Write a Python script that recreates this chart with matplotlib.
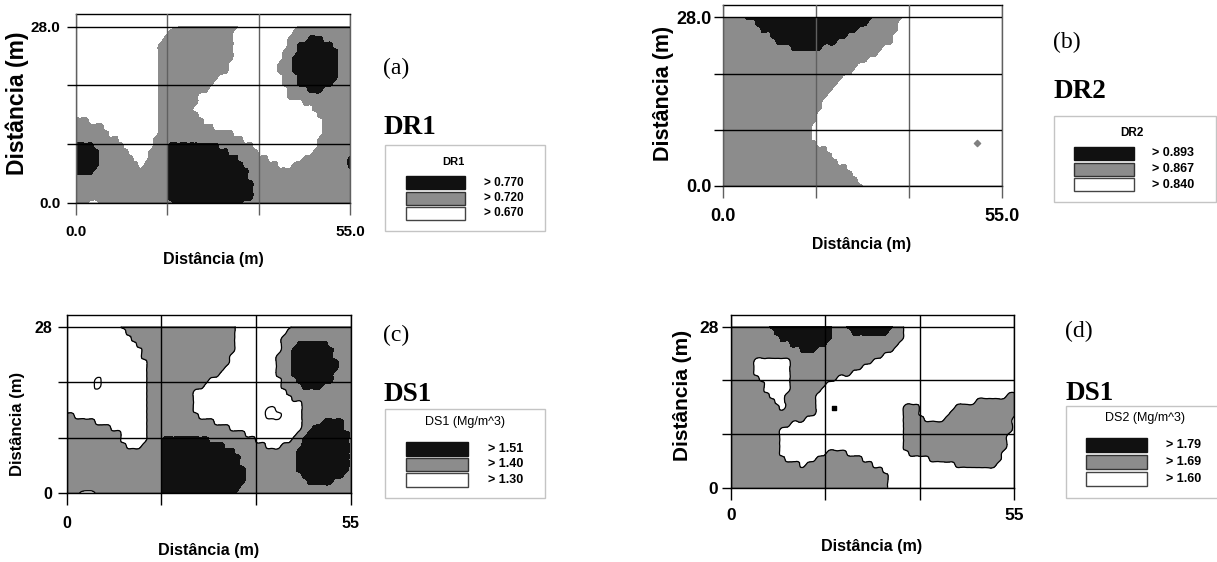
import numpy as np
import matplotlib
matplotlib.use("Agg")
import matplotlib.pyplot as plt
import matplotlib.tri as mtri
from matplotlib.patches import Rectangle

W, H = 1217, 562
plt.rcParams["font.family"] = ["Liberation Sans", "DejaVu Sans"]
plt.rcParams["font.weight"] = "bold"

GRAY = "#8c8c8c"
BLACK = "#111111"

# ---------------- data ----------------
X_EXTENT = 55.0
Y_EXTENT = 28.0
N_COLS = 56   # one sample per metre along x
N_ROWS = 29   # one sample per metre along y

# class maps, one row per metre from y = 28 m (top) to y = 0 m,
# written as runs "class x count" along x = 0..55 m
# '-' below the lowest class (white, outlined), '0' white, '1' gray, '2' black
dr1_map = [
    "0x21 1x12 0x12 1x11",
    "0x19 1x13 0x12 1x12",
    "0x18 1x14 0x11 1x4 2x3 1x6",
    "0x17 1x15 0x11 1x2 2x7 1x4",
    "0x17 1x15 0x10 1x3 2x8 1x3",
    "0x17 1x15 0x10 1x2 2x9 1x3",
    "0x17 1x14 0x10 1x3 2x9 1x3",
    "0x17 1x14 0x10 1x3 2x9 1x3",
    "0x17 1x12 0x13 1x3 2x8 1x3",
    "0x17 1x11 0x14 1x3 2x7 1x4",
    "0x17 1x10 0x16 1x4 2x3 1x6",
    "0x17 1x8 0x18 1x13",
    "0x17 1x8 0x21 1x10",
    "0x17 1x7 0x24 1x8",
    "0x17 1x8 0x24 1x7",
    "1x3 0x14 1x9 0x24 1x6",
    "1x6 0x11 1x11 0x22 1x6",
    "1x7 0x10 1x15 0x18 1x6",
    "1x9 0x7 1x18 0x15 1x7",
    "2x4 1x6 0x6 1x3 2x10 1x7 0x13 1x7",
    "2x5 1x6 0x4 1x4 2x12 1x6 0x11 1x8",
    "2x5 1x7 0x3 1x4 2x14 1x6 0x7 1x9 2x1",
    "2x5 1x8 0x1 1x5 2x15 1x7 0x3 1x11 2x1",
    "2x4 1x15 2x16 1x21",
    "1x19 2x16 1x21",
    "1x19 2x17 1x20",
    "1x19 2x17 1x20",
    "1x19 2x17 1x20",
    "1x3 0x2 1x15 2x14 1x22",
]
dr2_map = [
    "1x5 2x25 1x6 0x20",
    "1x7 2x22 1x6 0x21",
    "1x8 2x19 1x8 0x21",
    "1x10 2x15 1x9 0x22",
    "1x11 2x12 1x11 0x22",
    "1x14 2x6 1x12 0x24",
    "1x31 0x25",
    "1x29 0x27",
    "1x27 0x29",
    "1x26 0x30",
    "1x24 0x32",
    "1x23 0x33",
    "1x22 0x34",
    "1x21 0x35",
    "1x20 0x36",
    "1x20 0x36",
    "1x19 0x37",
    "1x19 0x37",
    "1x18 0x38",
    "1x18 0x38",
    "1x18 0x38",
    "1x19 0x37",
    "1x21 0x35",
    "1x22 0x34",
    "1x23 0x33",
    "1x25 0x31",
    "1x26 0x30",
    "1x27 0x29",
    "1x28 0x28",
]
ds1_map = [
    "0x11 1x22 0x11 1x12",
    "0x12 1x21 0x10 1x13",
    "0x13 1x20 0x9 1x14",
    "0x14 1x19 0x9 1x3 2x6 1x5",
    "0x15 1x18 0x9 1x2 2x8 1x4",
    "0x15 1x17 0x9 1x3 2x8 1x4",
    "0x16 1x16 0x9 1x3 2x9 1x3",
    "0x16 1x15 0x10 1x3 2x9 1x3",
    "0x16 1x14 0x11 1x3 2x8 1x4",
    "0x6 -x1 0x9 1x12 0x14 1x3 2x7 1x4",
    "0x6 -x1 0x9 1x11 0x15 1x4 2x4 1x6",
    "0x16 1x9 0x18 1x13",
    "0x16 1x9 0x19 1x12",
    "0x16 1x9 0x21 1x10",
    "0x16 1x9 0x14 -x2 0x5 1x10",
    "1x2 0x14 1x10 0x13 -x3 0x4 1x10",
    "1x6 0x10 1x13 0x17 1x4 2x4 1x2",
    "1x9 0x7 1x16 0x14 1x2 2x6 1x2",
    "1x11 0x5 1x19 0x10 1x2 2x8 1x1",
    "1x11 0x5 1x3 2x9 1x9 0x7 1x2 2x9 1x1",
    "1x12 0x3 1x4 2x12 1x8 0x3 1x4 2x9 1x1",
    "1x19 2x14 1x12 2x10 1x1",
    "1x19 2x15 1x11 2x10 1x1",
    "1x19 2x15 1x11 2x10 1x1",
    "1x19 2x16 1x10 2x10 1x1",
    "1x19 2x16 1x11 2x8 1x2",
    "1x19 2x16 1x12 2x5 1x4",
    "1x19 2x15 1x22",
    "1x3 0x3 1x13 2x14 1x23",
]
ds2_map = [
    "1x8 2x12 1x3 2x9 1x2 0x22",
    "1x9 2x11 1x4 2x7 1x3 0x22",
    "1x10 2x10 1x14 0x22",
    "1x12 2x7 1x14 0x23",
    "1x14 2x3 1x15 0x24",
    "1x30 0x26",
    "1x5 0x7 1x16 0x28",
    "1x5 0x7 1x14 0x30",
    "1x5 0x7 1x12 0x32",
    "1x6 0x6 1x9 0x35",
    "1x7 0x5 1x7 0x37",
    "1x7 0x5 1x6 0x38",
    "1x8 0x3 1x6 0x37 1x2",
    "1x9 0x2 1x6 0x31 1x8",
    "1x10 0x1 1x6 0x17 1x3 0x7 1x12",
    "1x17 0x17 1x3 0x6 1x13",
    "1x15 0x19 1x4 0x4 1x13 0x1",
    "1x12 0x22 1x21 0x1",
    "1x10 0x24 1x21 0x1",
    "1x10 0x24 1x20 0x2",
    "1x10 0x24 1x20 0x2",
    "1x10 0x24 1x20 0x2",
    "1x10 0x9 1x4 0x12 1x18 0x3",
    "1x11 0x6 1x9 0x13 1x14 0x3",
    "1x14 0x1 1x13 0x16 1x8 0x4",
    "1x30 0x26",
    "1x31 0x25",
    "1x31 0x25",
    "1x31 0x25",
]

dr2_point_x = [50.1]
dr2_point_y = [7.1]
ds2_point_x = [20.0]
ds2_point_y = [13.9]

dr_xtick_labels = ["0.0", "55.0"]
dr_ytick_labels = ["0.0", "28.0"]
ds_xtick_labels = ["0", "55"]
ds_ytick_labels = ["0", "28"]

axis_label = "Distância (m)"
panel_letters = ["(a)", "(b)", "(c)", "(d)"]
panel_names = ["DR1", "DR2", "DS1", "DS1"]
legend_titles = ["DR1", "DR2", "DS1 (Mg/m^3)", "DS2 (Mg/m^3)"]
legend_labels = [
    ["> 0.770", "> 0.720", "> 0.670"],
    ["> 0.893", "> 0.867", "> 0.840"],
    ["> 1.51", "> 1.40", "> 1.30"],
    ["> 1.79", "> 1.69", "> 1.60"],
]
legend_colors = [BLACK, GRAY, "white"]

# ---------------- figure ----------------
fig = plt.figure(figsize=(W / 100, H / 100), dpi=100)

CODE = {"-": -1.0, "0": 0.0, "1": 1.0, "2": 2.0}
xs = np.linspace(0, X_EXTENT, N_COLS)
ys = np.linspace(0, Y_EXTENT, N_ROWS)
XG, YG = np.meshgrid(xs, ys)
_idx = np.arange(N_ROWS * N_COLS).reshape(N_ROWS, N_COLS)
_a, _b = _idx[:-1, :-1].ravel(), _idx[:-1, 1:].ravel()
_c, _d = _idx[1:, :-1].ravel(), _idx[1:, 1:].ravel()
TRI = mtri.Triangulation(XG.ravel(), YG.ravel(),
                         np.concatenate([np.stack([_a, _b, _d], 1),
                                         np.stack([_a, _d, _c], 1)]))
REFINER = mtri.UniformTriRefiner(TRI)


def decode(rows):
    assert len(rows) == N_ROWS
    grid = []
    for r in rows:
        vals = []
        for tok in r.split():
            c, n = tok.split("x")
            vals += [CODE[c]] * int(n)
        assert len(vals) == N_COLS, (r, len(vals))
        grid.append(vals)
    return np.array(grid[::-1])


def make_axes(px_x0, px_x1, px_y0, px_y28):
    px_top = px_y0 - (px_y0 - px_y28) * 30.0 / 28.0
    return fig.add_axes([px_x0 / W, 1 - px_y0 / H,
                         (px_x1 - px_x0) / W, (px_y0 - px_top) / H])


def draw_map(ax, rows, xtl, ytl, vcolor, outline, tsize, xpad, ypad):
    z = decode(rows).ravel()
    interp = mtri.CubicTriInterpolator(TRI, z, kind="min_E")
    tri_f, z_f = REFINER.refine_field(z, triinterpolator=interp, subdiv=2)
    ax.tricontourf(tri_f, z_f, levels=[-9, -0.5, 0.5, 1.5, 9],
                   colors=["white", "white", GRAY, BLACK], zorder=1)
    if outline:
        ax.tricontour(tri_f, z_f, levels=[-0.5, 0.5], colors="black",
                      linewidths=0.9, linestyles="solid", zorder=2)
    ax.set_xlim(0, X_EXTENT)
    ax.set_ylim(0, 30)
    ax.set_xticks([0, X_EXTENT / 3, 2 * X_EXTENT / 3, X_EXTENT])
    ax.set_xticklabels([xtl[0], "", "", xtl[1]])
    ax.set_yticks([0, Y_EXTENT / 3, 2 * Y_EXTENT / 3, Y_EXTENT])
    ax.set_yticklabels([ytl[0], "", "", ytl[1]])
    ax.set_axisbelow(False)
    ax.grid(True, axis="x", color=vcolor, linewidth=1.0)
    ax.grid(True, axis="y", color="black", linewidth=1.0)
    ax.tick_params(axis="x", direction="out", length=8.4, width=1.0,
                   color=vcolor, labelsize=tsize, pad=xpad)
    ax.tick_params(axis="y", direction="out", length=6.4, width=1.0,
                   color="black", labelsize=tsize, pad=ypad)
    for s in ("top", "bottom"):
        ax.spines[s].set_color("black")
    for s in ("left", "right"):
        ax.spines[s].set_color(vcolor)
    for s in ax.spines.values():
        s.set_linewidth(1.0)


ax_a = make_axes(76, 350, 202.7, 26.7)
draw_map(ax_a, dr1_map, dr_xtick_labels, dr_ytick_labels, "#606060", False, 11, 8.0, 5.0)

ax_b = make_axes(722.7, 1001.7, 186, 17.3)
draw_map(ax_b, dr2_map, dr_xtick_labels, dr_ytick_labels, "#606060", False, 13, 7.5, 1.7)
ax_b.scatter(dr2_point_x, dr2_point_y, marker="D", s=10, color="#808080", zorder=3)

ax_c = make_axes(66.7, 351, 493.3, 326.7)
draw_map(ax_c, ds1_map, ds_xtick_labels, ds_ytick_labels, "black", True, 11.5, 8.0, 4.3)

ax_d = make_axes(730.7, 1014.3, 487.7, 326.7)
draw_map(ax_d, ds2_map, ds_xtick_labels, ds_ytick_labels, "black", True, 12.5, 6.0, 2.4)
ax_d.scatter(ds2_point_x, ds2_point_y, marker="s", s=5, color="black", zorder=3)

# ---------------- overlay in pixel coordinates ----------------
ov = fig.add_axes([0, 0, 1, 1])
ov.set_xlim(0, W)
ov.set_ylim(H, 0)
ov.axis("off")

# axis labels
xlab_pos = [(213, 259.5, 11.5), (862, 245, 11.3), (208.8, 551, 11.6), (872, 546, 11.6)]
for (x, y, fs) in xlab_pos:
    ov.text(x, y, axis_label, ha="center", va="center", fontsize=fs,
            fontweight="bold")
ylab_pos = [(17.5, 103.3, 16.5), (664, 93.5, 15.5), (17.5, 424, 12), (683, 395, 15)]
for (x, y, fs) in ylab_pos:
    ov.text(x, y, axis_label, ha="center", va="center", fontsize=fs,
            fontweight="bold", rotation=90)

# panel letters and names (serif)
letter_pos = [(383, 74), (1053, 48.3), (383, 340.7), (1065, 337.3)]
name_pos = [(383, 133.5), (1053, 98.3), (383, 401), (1065, 400)]
for i in range(4):
    ov.text(letter_pos[i][0], letter_pos[i][1], panel_letters[i], ha="left",
            va="baseline", fontsize=17, fontweight="normal",
            family=["Liberation Serif", "DejaVu Serif"])
    ov.text(name_pos[i][0], name_pos[i][1], panel_names[i], ha="left",
            va="baseline", fontsize=19.5, fontweight="bold",
            family=["Liberation Serif", "DejaVu Serif"])

# legends
legend_geom = [
    dict(box=(385, 145, 160, 86), title=(453, 162), sx=406, sw=59, tops=(176, 191.5, 207), sh=13,
         lx=484, tsize=8, lsize=8.5, tweight="bold"),
    dict(box=(1054, 116, 162, 86), title=(1132, 133), sx=1074, sw=60, tops=(147, 162.5, 178), sh=13,
         lx=1152, tsize=8.5, lsize=9, tweight="bold"),
    dict(box=(385, 409, 160, 89), title=(465, 422), sx=406, sw=62, tops=(442, 457.5, 473), sh=13.5,
         lx=488, tsize=9, lsize=9, tweight="normal"),
    dict(box=(1066, 406, 152, 92), title=(1145, 418), sx=1086, sw=61, tops=(438, 455, 472), sh=14,
         lx=1166, tsize=9, lsize=9, tweight="normal"),
]
swatch_edges = ["#111111", "#333333", "#444444"]
for i, g in enumerate(legend_geom):
    bx, by, bw, bh = g["box"]
    ov.add_patch(Rectangle((bx, by), bw, bh, facecolor="white", edgecolor="#c4c4c4",
                           linewidth=1.0, zorder=1))
    ov.text(g["title"][0], g["title"][1], legend_titles[i], ha="center", va="center",
            fontsize=g["tsize"], fontweight=g["tweight"], zorder=3)
    for k in range(3):
        top = g["tops"][k]
        ov.add_patch(Rectangle((g["sx"], top), g["sw"], g["sh"], facecolor=legend_colors[k],
                               edgecolor=swatch_edges[k], linewidth=1.0, zorder=2))
        ov.text(g["lx"], top + g["sh"] / 2, legend_labels[i][k], ha="left", va="center",
                fontsize=g["lsize"], fontweight="bold", zorder=3)

fig.savefig("out.png", dpi=100)
